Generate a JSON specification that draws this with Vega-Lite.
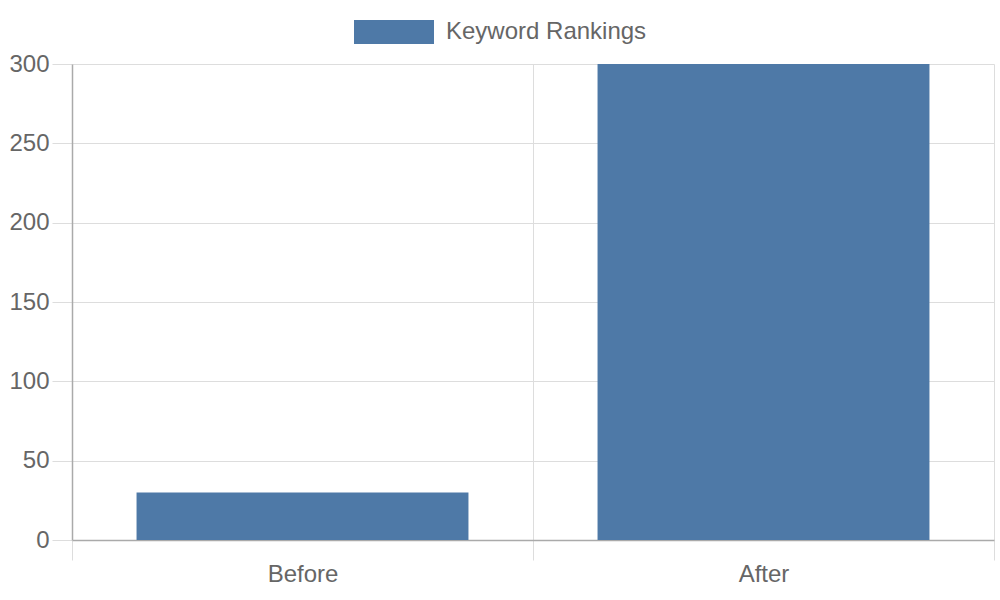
{
  "$schema": "https://vega.github.io/schema/vega-lite/v6.json",
  "autosize": "none",
  "width": 922,
  "height": 476,
  "padding": {"left": 72, "top": 64, "right": 6, "bottom": 60},
  "background": "white",
  "config": {
    "view": {"stroke": null},
    "font": "Liberation Sans"
  },
  "data": {
    "values": [
      {"stage": "Before", "rankings": 30},
      {"stage": "After", "rankings": 300}
    ]
  },
  "mark": {"type": "bar", "width": {"band": 0.72}},
  "encoding": {
    "x": {
      "field": "stage",
      "type": "nominal",
      "sort": ["Before", "After"],
      "scale": {"paddingInner": 0, "paddingOuter": 0},
      "axis": {
        "title": null,
        "labelAngle": 0,
        "labelFontSize": 24,
        "labelColor": "#666666",
        "labelPadding": 2,
        "tickBand": "extent",
        "tickSize": 20,
        "tickColor": "#dddddd",
        "grid": true,
        "gridColor": "#dddddd",
        "domainColor": "#aaaaaa",
        "domainWidth": 1.5
      }
    },
    "y": {
      "field": "rankings",
      "type": "quantitative",
      "scale": {"domain": [0, 300], "nice": false},
      "axis": {
        "title": null,
        "values": [0, 50, 100, 150, 200, 250, 300],
        "labelFontSize": 24,
        "labelColor": "#666666",
        "labelPadding": 3,
        "tickSize": 20,
        "tickColor": "#dddddd",
        "gridColor": "#dddddd",
        "domainColor": "#aaaaaa",
        "domainWidth": 1.5
      }
    },
    "color": {
      "datum": "Keyword Rankings",
      "type": "nominal",
      "scale": {"range": ["#4e79a7"]},
      "legend": {
        "title": null,
        "orient": "none",
        "legendX": 282,
        "legendY": -72,
        "padding": 0,
        "symbolType": "M-1,-0.3H1V0.3H-1Z",
        "symbolSize": 6400,
        "symbolStrokeWidth": 0,
        "symbolOpacity": 1,
        "labelFontSize": 24,
        "labelColor": "#666666",
        "labelOffset": 12,
        "labelLimit": 400
      }
    }
  }
}
